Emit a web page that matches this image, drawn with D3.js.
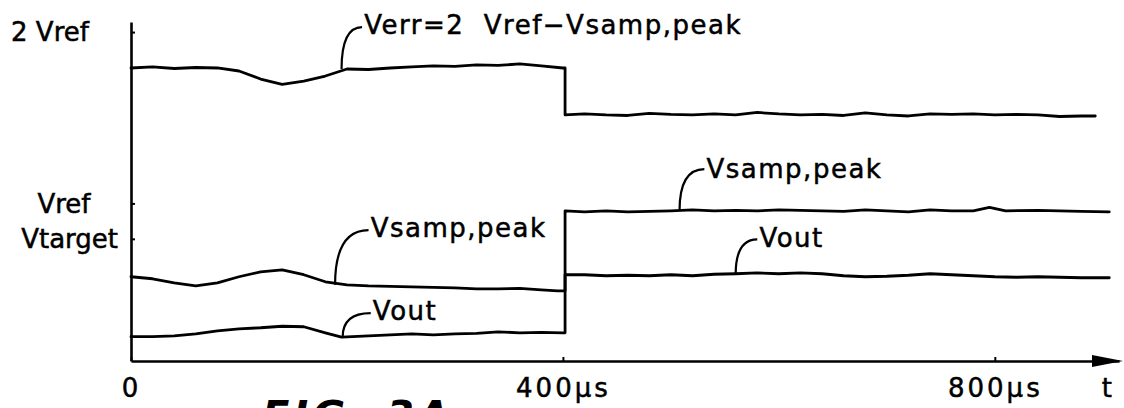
<!DOCTYPE html>
<html>
<head>
<meta charset="utf-8">
<script src="https://cdn.jsdelivr.net/npm/d3@7/dist/d3.min.js"></script>
<style>
  html, body { margin: 0; padding: 0; background: #fff; }
  svg { display: block; }
  text { font-family: "DejaVu Sans", sans-serif; fill: #000; white-space: pre; }
</style>
</head>
<body>
<svg id="chart" width="1124" height="408"></svg>
<script>
// ---------------- data (time in µs, level in units of Vref) ----------------
const verrT = [0,20,40,60,80,100,120,140,160,180,200,220,240,260,280,300,320,340,360,380,400,402,402,
               420,440,460,480,500,520,540,560,580,600,620,640,660,680,700,720,740,760,780,800,820,840,860,880,893];
const verrV = [1.786,1.792,1.783,1.789,1.786,1.768,1.720,1.688,1.708,1.738,1.780,1.777,1.786,1.792,1.798,1.795,1.804,1.801,1.810,1.798,1.786,1.786,1.506,
               1.512,1.506,1.503,1.515,1.509,1.506,1.512,1.506,1.521,1.512,1.506,1.509,1.503,1.518,1.506,1.500,1.512,1.509,1.512,1.506,1.509,1.506,1.497,1.500,1.500];

const vsampT = [0,20,40,60,80,100,120,140,160,180,200,220,240,260,280,300,320,340,360,380,395,402,402,
                420,440,460,480,500,520,540,560,580,600,620,640,660,680,700,720,740,760,780,795,810,840,860,880,906];
const vsampV = [0.542,0.530,0.506,0.488,0.506,0.542,0.571,0.583,0.554,0.512,0.494,0.488,0.485,0.482,0.479,0.476,0.470,0.470,0.473,0.464,0.458,0.458,0.935,
                0.929,0.935,0.929,0.932,0.935,0.940,0.935,0.938,0.935,0.940,0.938,0.935,0.932,0.940,0.935,0.929,0.940,0.935,0.935,0.955,0.935,0.938,0.935,0.932,0.929];

const voutT = [0,20,40,60,80,100,120,140,160,180,195,220,240,260,280,300,320,340,360,380,400,402,402,
               420,440,460,480,500,520,540,560,580,600,620,640,660,680,700,720,740,760,780,800,820,840,860,880,906];
const voutV = [0.185,0.185,0.190,0.202,0.220,0.232,0.238,0.247,0.244,0.208,0.182,0.190,0.196,0.202,0.196,0.202,0.205,0.214,0.208,0.211,0.208,0.208,0.554,
               0.554,0.548,0.551,0.548,0.554,0.548,0.557,0.560,0.565,0.560,0.565,0.560,0.548,0.542,0.545,0.551,0.560,0.554,0.548,0.542,0.539,0.542,0.539,0.536,0.536];

// y-axis reference levels
const yTickValues = [2, 0.979, 0.768];
const yTickLabels = ["2 Vref", "Vref", "Vtarget"];
// x-axis ticks
const xTickValues = [0, 400, 800];
const xTickLabels = ["0", "400\u03BCs", "800\u03BCs"];
const xAxisName = "t";

// annotations: label text, anchor on trace (t, v), leader end (t, v), label start (t, v baseline)
const annText    = ["Verr=2  Vref\u2212Vsamp,peak", "Vsamp,peak", "Vout", "Vsamp,peak", "Vout"];
const annAnchorT = [195, 189, 196, 508, 560];
const annAnchorV = [1.780, 0.494, 0.182, 0.935, 0.557];
const annEndT    = [214, 220, 222, 531, 580];
const annEndV    = [2.030, 0.820, 0.325, 1.183, 0.765];
const annLabelT  = [216, 222, 224, 533, 582];
const annLabelV  = [1.986, 0.780, 0.286, 1.129, 0.720];

const figCaption = "FIG. 3A";

// ---------------- scales ----------------
const svg = d3.select("#chart");
const x = d3.scaleLinear().domain([0, 915]).range([131, 1119]);
const y = d3.scaleLinear().domain([0.04, 2.06]).range([361, 22]);

const FS = 26;

// ---------------- axes ----------------
const xAxis = d3.axisBottom(x)
  .tickValues(xTickValues)
  .tickSizeInner(-4).tickSizeOuter(0)
  .tickPadding(18)
  .tickFormat((d, i) => xTickLabels[i]);
const gx = svg.append("g").attr("transform", `translate(0,${y(0.04)})`).call(xAxis);
gx.select(".domain").attr("stroke", "#000").attr("stroke-width", 2.6);
gx.selectAll(".tick line").attr("stroke", "#000").attr("stroke-width", 2);
gx.selectAll(".tick text").attr("font-size", FS).attr("letter-spacing", 3)
  .attr("font-family", "DejaVu Sans").attr("fill", "#000")
  .attr("stroke", "#000").attr("stroke-width", 0.5);

const yAxis = d3.axisLeft(y)
  .tickValues(yTickValues)
  .tickSizeInner(-4).tickSizeOuter(0)
  .tickFormat("");
const gy = svg.append("g").attr("transform", `translate(${x(0)},0)`).call(yAxis);
gy.select(".domain").attr("stroke", "#000").attr("stroke-width", 2.6);
gy.selectAll(".tick line").attr("stroke", "#000").attr("stroke-width", 2);

// arrowhead at end of time axis
const xEnd = x(915), y0 = y(0.04);
svg.append("path")
  .attr("d", `M${xEnd - 27},${y0 - 6} L${xEnd + 4},${y0} L${xEnd - 27},${y0 + 6} Z`)
  .attr("fill", "#000");

// axis name
svg.append("text").attr("x", x(800) + 112).attr("y", 397)
  .attr("font-size", FS).attr("text-anchor", "middle")
  .attr("stroke", "#000").attr("stroke-width", 0.5).text(xAxisName);

// y labels
const yLabelX = [50, 64, 118];
const yLabelAnchor = ["middle", "middle", "end"];
yTickValues.forEach((v, i) => {
  svg.append("text")
    .attr("x", yLabelX[i]).attr("y", y(v)).attr("dy", "0.36em")
    .attr("font-size", FS)
    .attr("stroke", "#000").attr("stroke-width", 0.5)
    .attr("text-anchor", yLabelAnchor[i])
    .text(yTickLabels[i]);
});

// ---------------- traces ----------------
const line = d3.line().x(d => x(d[0])).y(d => y(d[1]));
[[verrT, verrV], [vsampT, vsampV], [voutT, voutV]].forEach(([T, V]) => {
  svg.append("path")
    .datum(T.map((t, i) => [t, V[i]]))
    .attr("d", line)
    .attr("fill", "none")
    .attr("stroke", "#000")
    .attr("stroke-width", 2.8)
    .attr("stroke-linejoin", "round")
    .attr("stroke-linecap", "round");
});

// ---------------- annotations ----------------
annText.forEach((txt, i) => {
  const x0 = x(annAnchorT[i]), y0a = y(annAnchorV[i]);
  const x1 = x(annEndT[i]), y1 = y(annEndV[i]);
  svg.append("path")
    .attr("d", `M${x0},${y0a} Q${x0},${y1} ${x1},${y1}`)
    .attr("fill", "none").attr("stroke", "#000").attr("stroke-width", 2.2);
  svg.append("text")
    .attr("x", x(annLabelT[i])).attr("y", y(annLabelV[i]))
    .attr("xml:space", "preserve")
    .attr("font-size", FS).attr("letter-spacing", 1.5)
    .attr("stroke", "#000").attr("stroke-width", 0.5)
    .text(txt);
});

// figure caption (mostly below the frame, as in the reference)
svg.append("text").attr("x", 262).attr("y", 430)
  .attr("font-size", 40).attr("font-weight", "bold").attr("font-style", "italic")
  .attr("letter-spacing", 4)
  .text(figCaption);
</script>
</body>
</html>
